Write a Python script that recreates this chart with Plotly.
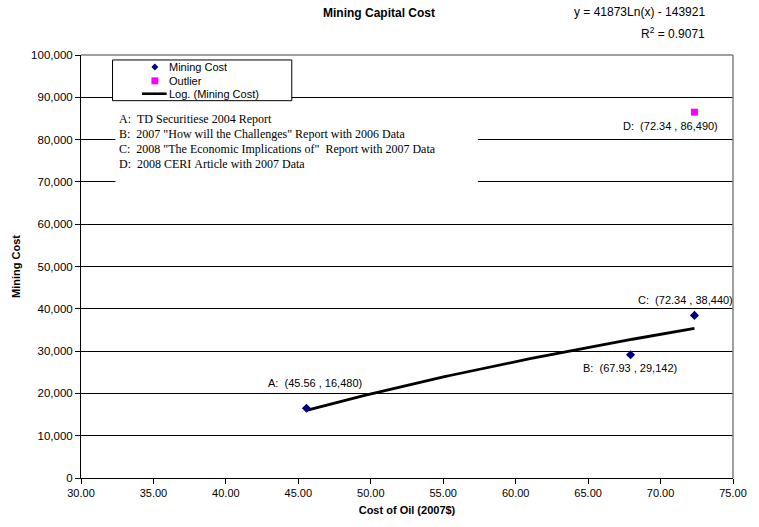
import numpy as np
import plotly.graph_objects as go

# Mining capital cost vs. oil price
mining_x = [45.56, 67.93, 72.34]
mining_y = [16480, 29142, 38440]
mining_tags = ["A", "B", "C"]

outlier_x = [72.34]
outlier_y = [86490]
outlier_tags = ["D"]

# Logarithmic trend line fitted to the mining-cost series
trend_a = 41873
trend_b = -143921
trend_r2 = 0.9071

source_notes = [
    "A:  TD Securitiese 2004 Report",
    "B:  2007 \"How will the Challenges\" Report with 2006 Data",
    "C:  2008 \"The Economic Implications of\"  Report with 2007 Data",
    "D:  2008 CERI Article with 2007 Data",
]

legend_names = ["Mining Cost", "Outlier", "Log. (Mining Cost)"]

# plot-area geometry in pixels
W, H = 759, 527
L, R, T, B = 81, 743, 55, 481


def px(x):
    return (x - L) / (R - L)


def py(y):
    return (B - y) / (B - T)


FONT = "Liberation Sans, Arial, sans-serif"
SERIF = "Liberation Serif, Times New Roman, serif"

tx = np.linspace(min(mining_x), max(mining_x), 60)
ty = trend_a * np.log(tx) + trend_b

fig = go.Figure()
fig.add_trace(go.Scatter(
    x=tx, y=ty, mode="lines", name=legend_names[2],
    line=dict(color="black", width=2.8), showlegend=False, hoverinfo="skip"))
fig.add_trace(go.Scatter(
    x=mining_x, y=mining_y, mode="markers", name=legend_names[0],
    marker=dict(symbol="diamond", size=7, color="#000080"), showlegend=False))
fig.add_trace(go.Scatter(
    x=outlier_x, y=outlier_y, mode="markers", name=legend_names[1],
    marker=dict(symbol="square", size=7, color="#FF00FF"), showlegend=False))

shapes = []
annotations = []

# white boxes hiding gridlines behind the key and the notes
shapes.append(dict(type="rect", xref="paper", yref="paper", layer="above",
                   x0=px(116), x1=px(484), y0=py(187), y1=py(104),
                   fillcolor="white", line=dict(width=0)))
shapes.append(dict(type="rect", xref="paper", yref="paper", layer="above",
                   x0=px(113), x1=px(295), y0=py(101), y1=py(60),
                   fillcolor="white", line=dict(color="black", width=1)))

# plot frame (top / right in grey)
shapes.append(dict(type="line", xref="paper", yref="paper", x0=0, x1=1, y0=1, y1=1,
                   line=dict(color="#808080", width=1.5)))
shapes.append(dict(type="line", xref="paper", yref="paper", x0=1, x1=1, y0=0, y1=1,
                   line=dict(color="#808080", width=1.5)))

# key symbols
kx = 156
rows = [67, 81, 94]
d = 3.5
shapes.append(dict(type="path", xref="paper", yref="paper", layer="above",
                   path="M {a},{b} L {c},{e} L {a},{f} L {g},{e} Z".format(
                       a=px(kx), b=py(rows[0] - d), c=px(kx + d), e=py(rows[0]),
                       f=py(rows[0] + d), g=px(kx - d)),
                   fillcolor="#000080", line=dict(width=0)))
shapes.append(dict(type="rect", xref="paper", yref="paper", layer="above",
                   x0=px(kx - 3.5), x1=px(kx + 3.5), y0=py(rows[1] + 3.5), y1=py(rows[1] - 3.5),
                   fillcolor="#FF00FF", line=dict(width=0)))
shapes.append(dict(type="line", xref="paper", yref="paper", layer="above",
                   x0=px(143), x1=px(168), y0=py(rows[2]), y1=py(rows[2]),
                   line=dict(color="black", width=2.6)))
for name, ry in zip(legend_names, rows):
    annotations.append(dict(xref="paper", yref="paper", x=px(168), y=py(ry),
                            xanchor="left", yanchor="middle", showarrow=False,
                            text=name, font=dict(family=FONT, size=11, color="black")))

# source notes
for i, note in enumerate(source_notes):
    annotations.append(dict(xref="paper", yref="paper", x=px(118), y=py(119 + 15.2 * i),
                            xanchor="left", yanchor="middle", showarrow=False,
                            text=note.replace(" ", "\u00a0"),
                            font=dict(family=SERIF, size=12, color="black")))

# point labels
offsets = {"A": (9, 25), "B": (-1, -13), "C": (-9, 15), "D": (-24, -14)}
for xs, ys, tags in ((mining_x, mining_y, mining_tags), (outlier_x, outlier_y, outlier_tags)):
    for x, y, t in zip(xs, ys, tags):
        dx, dy = offsets[t]
        annotations.append(dict(x=x, y=y, xref="x", yref="y", showarrow=False,
                                xshift=dx, yshift=dy,
                                text=f"{t}:\u00a0\u00a0({x:.2f}\u00a0,\u00a0{y:,})",
                                font=dict(family=FONT, size=11, color="black")))

# trend equation
annotations.append(dict(xref="paper", yref="paper", x=(717 - L) / (R - L), y=(B - 12) / (B - T),
                        xanchor="right", yanchor="middle", showarrow=False,
                        text=f"y = {trend_a}Ln(x) - {abs(trend_b)}",
                        font=dict(family=FONT, size=12, color="black")))
annotations.append(dict(xref="paper", yref="paper", x=(717 - L) / (R - L), y=(B - 33) / (B - T),
                        xanchor="right", yanchor="middle", showarrow=False,
                        text=f"R<sup>2</sup> = {trend_r2}",
                        font=dict(family=FONT, size=12, color="black")))

fig.update_layout(
    width=W, height=H,
    margin=dict(l=L, r=W - R, t=T, b=H - B),
    paper_bgcolor="white", plot_bgcolor="white",
    font=dict(family=FONT, size=11, color="black"),
    title=dict(text="<b>Mining Capital Cost</b>", x=379 / W, xanchor="center",
               y=1 - 13 / H, yanchor="middle", xref="container", yref="container",
               font=dict(family=FONT, size=12, color="black")),
    showlegend=False,
    shapes=shapes,
    annotations=annotations,
    xaxis=dict(range=[30, 75], dtick=5, tick0=30, tickformat=".2f",
               showgrid=False, zeroline=False, showline=True, linecolor="black", linewidth=1,
               ticks="outside", ticklen=5, tickcolor="black",
               tickfont=dict(family=FONT, size=11),
               title=dict(text="<b>Cost of Oil (2007$)</b>", standoff=8,
                          font=dict(family=FONT, size=11))),
    yaxis=dict(range=[0, 100000], dtick=10000, tickformat=",d",
               showgrid=True, gridcolor="black", gridwidth=1, zeroline=False,
               showline=True, linecolor="black", linewidth=1,
               ticks="outside", ticklen=5, tickcolor="black",
               tickfont=dict(family=FONT, size=11.5),
               title=dict(text="<b>Mining Cost</b>", standoff=8,
                          font=dict(family=FONT, size=11))),
)

fig.write_html("out.html")
